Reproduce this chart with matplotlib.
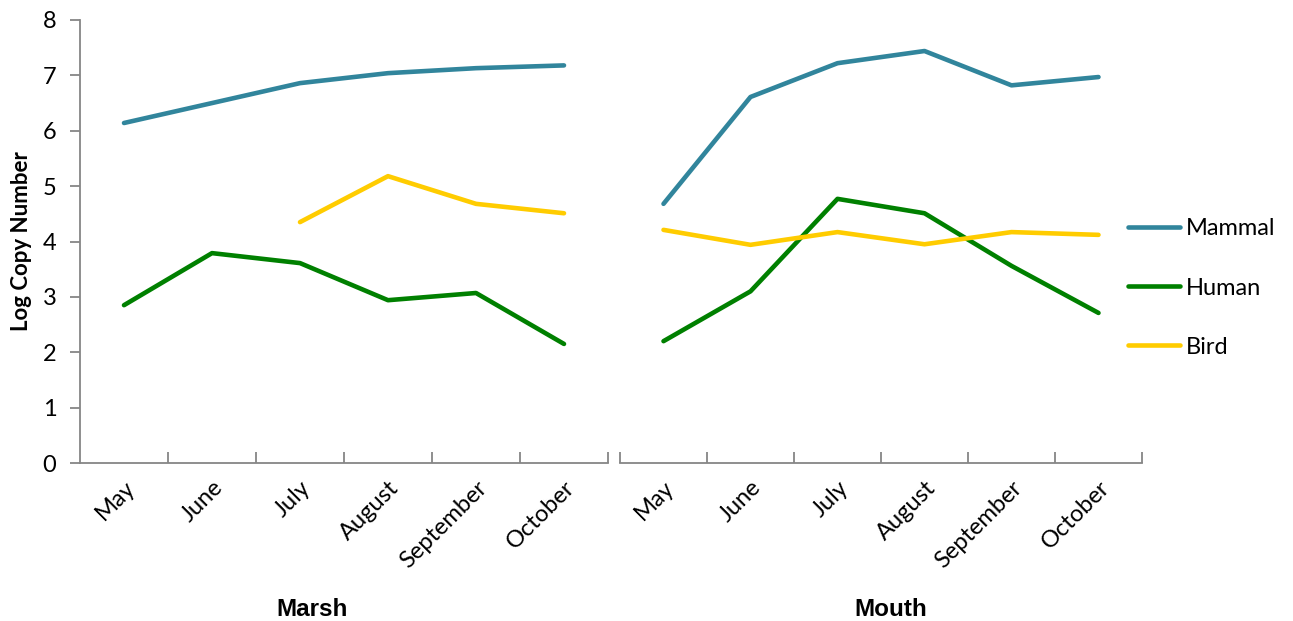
import numpy as np
import matplotlib
matplotlib.use("Agg")
import matplotlib.pyplot as plt

months = ["May", "June", "July", "August", "September", "October"]
groups = ["Marsh", "Mouth"]
series = ["Mammal", "Human", "Bird"]
colors = ["#31859C", "#008000", "#FFCC00"]

marsh_mammal = [6.14, 6.50, 6.86, 7.04, 7.13, 7.18]
marsh_human = [2.85, 3.79, 3.61, 2.94, 3.07, 2.15]
marsh_bird = [np.nan, np.nan, 4.35, 5.18, 4.68, 4.51]

mouth_mammal = [4.68, 6.61, 7.22, 7.44, 6.82, 6.97]
mouth_human = [2.20, 3.10, 4.77, 4.51, 3.56, 2.71]
mouth_bird = [4.21, 3.94, 4.17, 3.95, 4.17, 4.12]

data = {
    "Marsh": [marsh_mammal, marsh_human, marsh_bird],
    "Mouth": [mouth_mammal, mouth_human, mouth_bird],
}

plt.rcParams['font.family'] = ['Lato', 'DejaVu Sans']

W, H = 1293, 621
fig = plt.figure(figsize=(W / 100, H / 100), dpi=100)

axes_px = [(80, 608), (620, 1142)]
top_px, bot_px = 20, 463
gray = "#868686"
group_label_px = [(312, 609), (891, 609)]

axs = []
for gi, (g, (x0, x1)) in enumerate(zip(groups, axes_px)):
    ax = fig.add_axes([x0 / W, 1 - bot_px / H, (x1 - x0) / W, (bot_px - top_px) / H])
    axs.append(ax)
    xs = np.arange(len(months)) + 0.5
    for s, c, vals in zip(series, colors, data[g]):
        ax.plot(xs, vals, color=c, lw=3.3, solid_capstyle='round',
                solid_joinstyle='round', label=s)
    ax.set_xlim(0, len(months))
    ax.set_ylim(0, 8)
    for sp in ["top", "right"]:
        ax.spines[sp].set_visible(False)
    ax.spines["bottom"].set_color(gray)
    ax.spines["bottom"].set_linewidth(1.3)
    ax.spines["left"].set_color(gray)
    ax.spines["left"].set_linewidth(1.3)
    if gi == 0:
        ax.set_yticks(range(0, 9))
        ax.tick_params(axis='y', direction='out', length=7, color=gray,
                       width=1.3, labelsize=17, pad=10)
        ax.set_ylabel("Log Copy Number", fontsize=16, fontweight='bold')
        ax.yaxis.set_label_coords(-0.09, 0.5)
    else:
        ax.spines["left"].set_visible(False)
        ax.set_yticks([])
    ax.set_xticks(xs)
    ax.set_xticklabels(months, rotation=45, ha='right', va='top',
                       rotation_mode='anchor', fontsize=17)
    ax.tick_params(axis='x', which='major', length=0, pad=10)
    if gi == 0:
        ax.set_xticks(np.arange(1, len(months) + 1), minor=True)
    else:
        ax.set_xticks(np.arange(0, len(months) + 1), minor=True)
    ax.tick_params(axis='x', which='minor', direction='in', length=8,
                   color=gray, width=1.3)
    gx, gy = group_label_px[gi]
    fig.text(gx / W, 1 - gy / H, g, ha='center', va='center',
             fontsize=17.5, fontweight='bold', family='Liberation Sans')

handles, labels = axs[1].get_legend_handles_labels()
fig.legend(handles, labels, loc='center left', bbox_to_anchor=(1128 / W, 1 - 288 / H),
           frameon=False, fontsize=17, handlelength=2.2, handletextpad=0.25,
           labelspacing=1.62, borderpad=0, borderaxespad=0)

fig.savefig("out.png", dpi=100)
